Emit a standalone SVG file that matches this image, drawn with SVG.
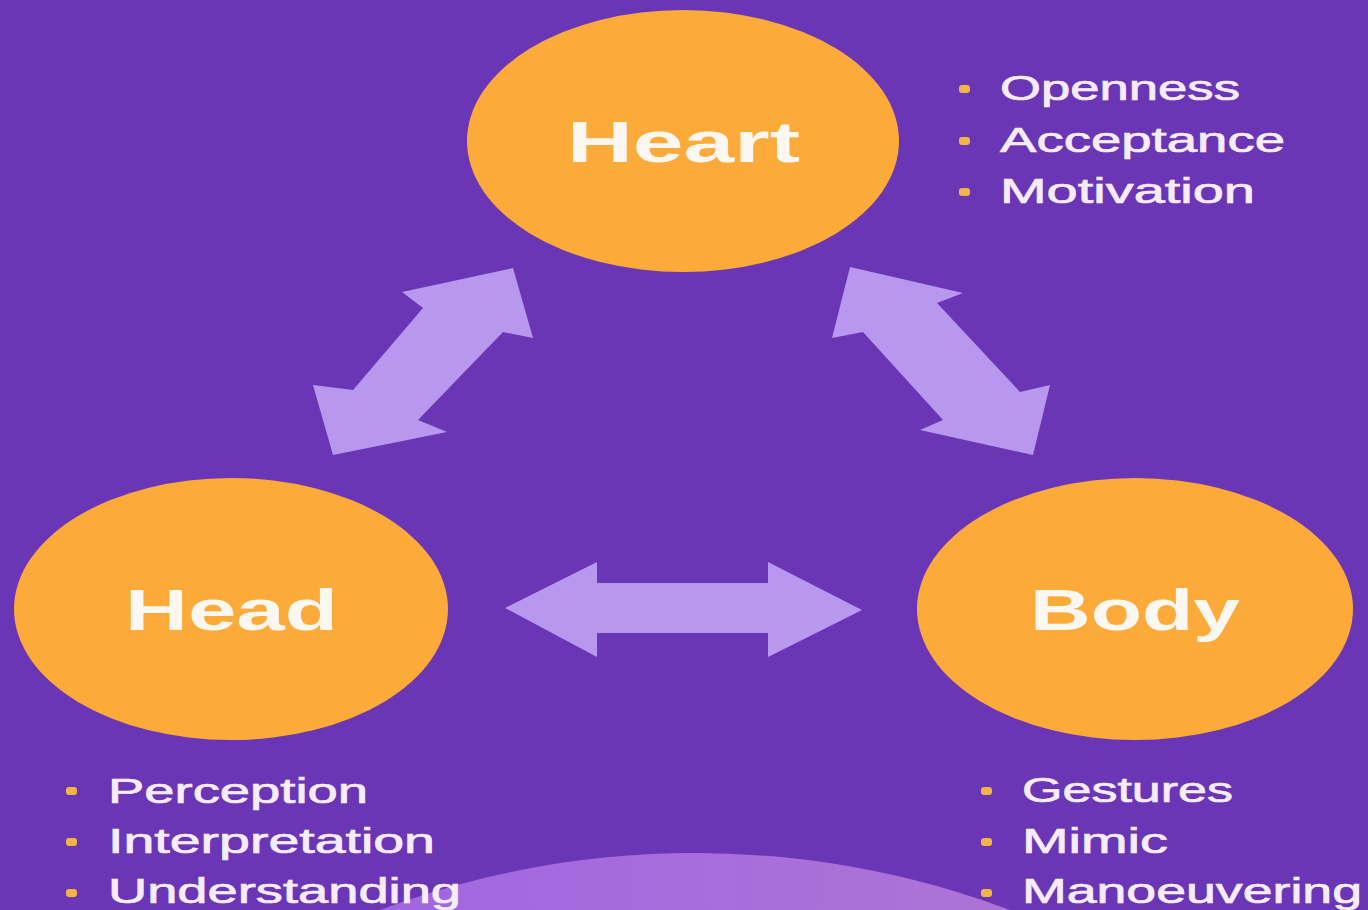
<svg xmlns="http://www.w3.org/2000/svg" width="1368" height="910" viewBox="0 0 1368 910">
<defs>
<style>
.node{fill:#fcab3a;}
.title{font-family:"Liberation Sans",Arial,sans-serif;font-weight:bold;font-size:58px;fill:#fdf7f2;}
.item{font-family:"Liberation Sans",Arial,sans-serif;font-size:35px;fill:#f6ecff;stroke:#f6ecff;stroke-width:0.7px;}
.bullet{fill:#f2b545;}
.arrow{fill:#b898ee;}
</style>
<linearGradient id="arcGrad" x1="0" y1="0" x2="1" y2="0">
<stop offset="0" stop-color="#975ae8"/>
<stop offset="0.5" stop-color="#a66ddc"/>
<stop offset="1" stop-color="#ba80cc"/>
</linearGradient>
</defs>
<rect x="0" y="0" width="1368" height="910" fill="#6a36b6"/>
<circle cx="695" cy="1753" r="900" fill="url(#arcGrad)"/>
<g id="connectors">
<polygon class="arrow" points="513,268 533,338 503,332 418,420 447,432 333,455 313,385 353,390 423,308 402,292"/>
<polygon class="arrow" points="850,267 963,293 937,303 1020,392 1050,385 1033,455 920,430 943,420 863,332 832,338"/>
<polygon class="arrow" points="505,608 597,562 597,583 768,583 768,562 862,610 768,657 768,633 597,633 597,657"/>
</g>
<g id="heart">
<ellipse class="node" cx="683" cy="141" rx="216" ry="131"/>
<text class="title" x="567" y="162" textLength="233" lengthAdjust="spacingAndGlyphs">Heart</text>
</g>
<g id="head">
<ellipse class="node" cx="231" cy="609" rx="217" ry="131"/>
<text class="title" x="125" y="630" textLength="213" lengthAdjust="spacingAndGlyphs">Head</text>
</g>
<g id="body">
<ellipse class="node" cx="1135" cy="609" rx="218" ry="131"/>
<text class="title" x="1030" y="630" textLength="210" lengthAdjust="spacingAndGlyphs">Body</text>
</g>
<g id="heart-list">
<rect class="bullet" x="959" y="85" width="11" height="8" rx="3"/>
<rect class="bullet" x="959" y="137" width="11" height="8" rx="3"/>
<rect class="bullet" x="959" y="188" width="11" height="8" rx="3"/>
<text class="item" x="1000" y="100" textLength="240" lengthAdjust="spacingAndGlyphs">Openness</text>
<text class="item" x="1000" y="152" textLength="285" lengthAdjust="spacingAndGlyphs">Acceptance</text>
<text class="item" x="1000" y="203" textLength="255" lengthAdjust="spacingAndGlyphs">Motivation</text>
</g>
<g id="head-list">
<rect class="bullet" x="66" y="787" width="11" height="8" rx="3"/>
<rect class="bullet" x="66" y="838" width="11" height="8" rx="3"/>
<rect class="bullet" x="66" y="889" width="11" height="8" rx="3"/>
<text class="item" x="108" y="803" textLength="260" lengthAdjust="spacingAndGlyphs">Perception</text>
<text class="item" x="108" y="853" textLength="327" lengthAdjust="spacingAndGlyphs">Interpretation</text>
<text class="item" x="108" y="903" textLength="353" lengthAdjust="spacingAndGlyphs">Understanding</text>
</g>
<g id="body-list">
<rect class="bullet" x="981" y="787" width="11" height="8" rx="3"/>
<rect class="bullet" x="981" y="838" width="11" height="8" rx="3"/>
<rect class="bullet" x="981" y="889" width="11" height="8" rx="3"/>
<text class="item" x="1022" y="802" textLength="211" lengthAdjust="spacingAndGlyphs">Gestures</text>
<text class="item" x="1022" y="853" textLength="146" lengthAdjust="spacingAndGlyphs">Mimic</text>
<text class="item" x="1022" y="903" textLength="340" lengthAdjust="spacingAndGlyphs">Manoeuvering</text>
</g>
</svg>
